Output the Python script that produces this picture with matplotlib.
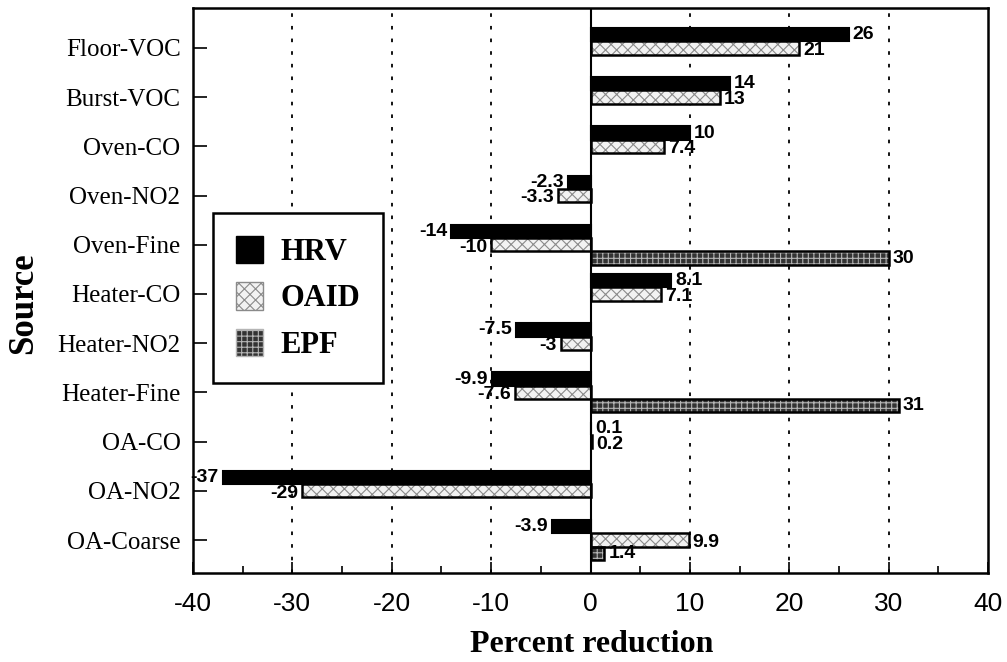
import numpy as np
import matplotlib
matplotlib.use("Agg")
import matplotlib.pyplot as plt
from matplotlib.patches import Patch

# data
sources = ["Floor-VOC", "Burst-VOC", "Oven-CO", "Oven-NO2", "Oven-Fine",
           "Heater-CO", "Heater-NO2", "Heater-Fine", "OA-CO", "OA-NO2", "OA-Coarse"]
hrv = [26, 14, 10, -2.3, -14, 8.1, -7.5, -9.9, 0.1, -37, -3.9]
oaid = [21, 13, 7.4, -3.3, -10, 7.1, -3, -7.6, 0.2, -29, 9.9]
epf = [np.nan, np.nan, np.nan, np.nan, 30, np.nan, np.nan, 31, np.nan, np.nan, 1.4]
labels_hrv = ["26", "14", "10", "-2.3", "-14", "8.1", "-7.5", "-9.9", "0.1", "-37", "-3.9"]
labels_oaid = ["21", "13", "7.4", "-3.3", "-10", "7.1", "-3", "-7.6", "0.2", "-29", "9.9"]
labels_epf = ["", "", "", "", "30", "", "", "31", "", "", "1.4"]
xticks = [-40, -30, -20, -10, 0, 10, 20, 30, 40]

serif = ["Liberation Serif", "DejaVu Serif"]
sans = ["Liberation Sans", "DejaVu Sans"]

W, H = 1007, 662
fig = plt.figure(figsize=(W / 100, H / 100), dpi=100)
ax = fig.add_axes([193 / W, 1 - 573 / H, (988 - 193) / W, (573 - 8) / H])

y = np.arange(len(sources))
h = 0.27

plt.rcParams['hatch.linewidth'] = 0.8

# HRV: solid black
ax.barh(y - h, hrv, height=h, color="black", edgecolor="black", linewidth=1.5, zorder=3)
# OAID: light cross hatch
ax.barh(y, oaid, height=h, color="#f2f2f2", edgecolor="#8a8a8a", hatch="xxx", linewidth=0, zorder=3)
ax.barh(y, oaid, height=h, fill=False, edgecolor="black", linewidth=1.8, zorder=4)
# EPF: dark with light pattern
ax.barh(y + h, epf, height=h, color="#333333", edgecolor="#b5b5b5", hatch="+++", linewidth=0, zorder=3)
ax.barh(y + h, epf, height=h, fill=False, edgecolor="black", linewidth=1.8, zorder=4)

# value labels
def put_labels(vals, labs, off, dy):
    for i, (v, s) in enumerate(zip(vals, labs)):
        if s == "" or np.isnan(v):
            continue
        if v >= 0:
            ax.text(v + 0.4, i + off + dy, s, ha="left", va="center", fontsize=14,
                    fontweight="bold", family=sans, zorder=5)
        else:
            ax.text(v - 0.4, i + off + dy, s, ha="right", va="center", fontsize=14,
                    fontweight="bold", family=sans, zorder=5)

put_labels(hrv, labels_hrv, -h, 0.0)
put_labels(oaid, labels_oaid, 0, 0.05)
put_labels(epf, labels_epf, h, 0.0)

ax.set_xlim(-40, 40)
ax.set_ylim(len(sources) - 1 + 0.67, -0.81)

ax.set_xticks(xticks)
ax.set_xticklabels([str(t) for t in xticks], family=sans, fontsize=19)
ax.set_xticks(np.arange(-35, 40, 10), minor=True)
ax.set_yticks(y)
ax.set_yticklabels(sources, family=serif, fontsize=18)

ax.tick_params(axis="x", which="major", direction="in", length=8, width=1.2, pad=14)
ax.tick_params(axis="x", which="minor", direction="in", length=5, width=1.2)
ax.tick_params(axis="y", direction="in", length=10, width=1.2, pad=9)

for sp in ax.spines.values():
    sp.set_linewidth(1.8)

for t in [-30, -20, -10, 10, 20, 30]:
    ax.axvline(t, color="black", linestyle=(0, (2, 5)), linewidth=1.3, zorder=1)
ax.axvline(0, color="black", linewidth=1.5, zorder=5)

handles = [Patch(facecolor="black", edgecolor="black", label="HRV"),
           Patch(facecolor="#f2f2f2", edgecolor="#8a8a8a", hatch="xxx", label="OAID"),
           Patch(facecolor="#333333", edgecolor="#b5b5b5", hatch="+++", label="EPF")]
leg = ax.legend(handles=handles, loc="upper left", bbox_to_anchor=(20 / 795, 1 - 205 / 565),
                frameon=True, fancybox=False, edgecolor="black", framealpha=1,
                prop={"family": serif, "weight": "bold", "size": 22},
                handlelength=0.9, handleheight=1.0, handletextpad=0.55,
                labelspacing=0.5, borderpad=0.75, borderaxespad=0)
leg.get_frame().set_linewidth(1.8)
leg.set_zorder(6)

fig.text(24 / W, 1 - 303 / H, "Source", rotation=90, ha="center", va="center",
         family=serif, fontweight="bold", fontsize=25)
fig.text(592 / W, 1 - 645 / H, "Percent reduction", ha="center", va="center",
         family=serif, fontweight="bold", fontsize=23)

fig.savefig("out.png", dpi=100)
